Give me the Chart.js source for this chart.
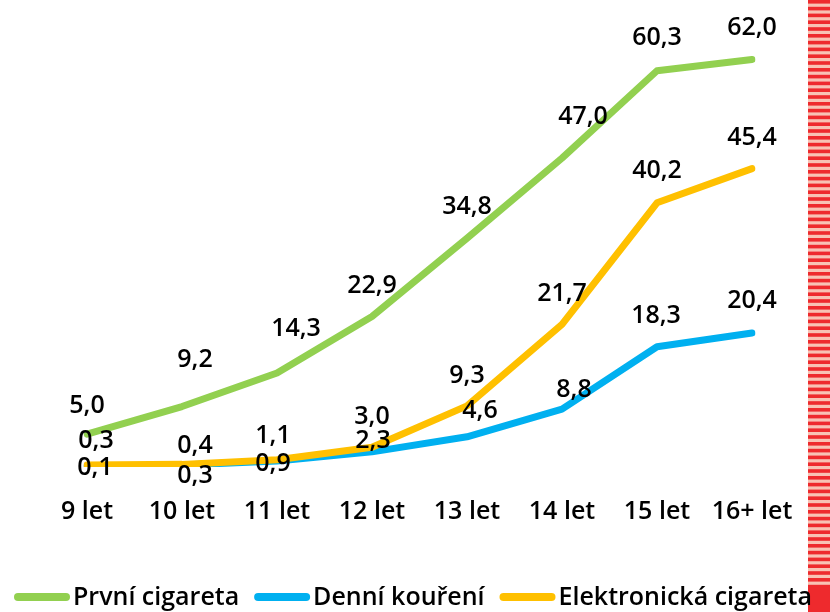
<!DOCTYPE html>
<html>
<head>
<meta charset="utf-8">
<script src="https://cdn.jsdelivr.net/npm/chart.js@4/dist/chart.umd.min.js"></script>
<style>
  html, body { margin: 0; padding: 0; background: #fff; }
  #wrap { width: 830px; height: 612px; position: relative; }
</style>
</head>
<body>
<div id="wrap"><canvas id="chart"></canvas></div>
<script>
const ageLabels = ['9 let', '10 let', '11 let', '12 let', '13 let', '14 let', '15 let', '16+ let']

const prvniCigareta = [5.0, 9.2, 14.3, 22.9, 34.8, 47.0, 60.3, 62.0]
const denniKoureni = [0.1, 0.3, 0.9, 2.3, 4.6, 8.8, 18.3, 20.4]
const elektronicka = [0.3, 0.4, 1.1, 3.0, 9.3, 21.7, 40.2, 45.4]

// hand-placed label nudges, like in the original (dx, dy from the point)
const prvniNudge = [[0,-30],[13,-49],[19,-46],[0,-33],[0,-33],[21,-43],[0,-35],[0,-34]]
const denniNudge = [[8,0],[13,9],[-4,1],[1,-13],[13,-28],[12,-21],[-1,-33],[0,-34]]
const elektroNudge = [[9,-26],[13,-20],[-4,-26],[0,-32],[0,-32],[0,-32],[0,-34],[0,-33]]

const FONT = '"Open Sans", "Noto Sans", sans-serif'

const stripes = {
  id: 'stripes',
  beforeDraw(chart) {
    const ctx = chart.ctx
    const x = 808, w = chart.width - x
    ctx.save()
    ctx.fillStyle = '#f8c2b4'
    ctx.fillRect(x, 0, w, 590)
    ctx.fillStyle = '#ee2a2d'
    for (let y = 0; y < 590; y += 6.8) ctx.fillRect(x, y, w, 3.6)
    ctx.fillRect(x, 588, w, chart.height - 588)
    ctx.restore()
  }
}

const valueLabels = {
  id: 'valueLabels',
  afterDatasetsDraw(chart) {
    const ctx = chart.ctx
    ctx.save()
    ctx.font = '600 25px ' + FONT
    ctx.fillStyle = '#000'
    ctx.textAlign = 'center'
    ctx.textBaseline = 'alphabetic'
    chart.data.datasets.forEach(function(ds, i) {
      const meta = chart.getDatasetMeta(i)
      meta.data.forEach(function(pt, j) {
        const n = ds.nudge[j]
        const txt = ds.data[j].toFixed(1).replace('.', ',')
        ctx.fillText(txt, pt.x + n[0], pt.y + n[1] + 9)
      })
    })
    ctx.restore()
  }
}

const bottomLegend = {
  id: 'bottomLegend',
  afterDraw(chart) {
    const ctx = chart.ctx
    ctx.save()
    ctx.font = '600 25px ' + FONT
    const items = chart.data.datasets.map(function(ds) {
      return { text: ds.label, color: ds.borderColor, w: ctx.measureText(ds.label).width }
    })
    const lineW = 56, gapText = 3
    const left = 14, right = 812
    let used = 0
    items.forEach(function(it) { used += lineW + gapText + it.w })
    const gapItem = (right - left - used) / (items.length - 1)
    let x = left
    const y = 597
    items.forEach(function(it) {
      ctx.strokeStyle = it.color
      ctx.lineWidth = 8
      ctx.lineCap = 'round'
      ctx.beginPath()
      ctx.moveTo(x + 4, y)
      ctx.lineTo(x + lineW - 4, y)
      ctx.stroke()
      ctx.fillStyle = '#000'
      ctx.textBaseline = 'alphabetic'
      ctx.fillText(it.text, x + lineW + gapText, y + 7.5)
      x += lineW + gapText + it.w + gapItem
    })
    ctx.restore()
  }
}

const lineStyle = { borderWidth: 7, pointRadius: 0, tension: 0, borderCapStyle: 'round', borderJoinStyle: 'round', fill: false }

new Chart(document.getElementById('chart'), {
  type: 'line',
  data: {
    labels: ageLabels,
    datasets: [
      Object.assign({ label: 'První cigareta', data: prvniCigareta, borderColor: '#92d050', nudge: prvniNudge, order: 2 }, lineStyle),
      Object.assign({ label: 'Denní kouření', data: denniKoureni, borderColor: '#00b0f0', nudge: denniNudge, order: 1 }, lineStyle),
      Object.assign({ label: 'Elektronická cigareta', data: elektronicka, borderColor: '#ffc000', nudge: elektroNudge, order: 0 }, lineStyle),
    ]
  },
  options: {
    responsive: true,
    maintainAspectRatio: false,
    animation: false,
    layout: { padding: { left: 87, right: 78, top: 7, bottom: 55 } },
    plugins: {
      legend: { display: false },
      tooltip: { enabled: false }
    },
    scales: {
      x: {
        offset: false,
        grid: { display: false, drawTicks: false },
        border: { display: false },
        ticks: {
          padding: 30,
          maxRotation: 0,
          autoSkip: false,
          color: '#000',
          font: { family: FONT, size: 25, weight: '600' }
        }
      },
      y: {
        display: false,
        min: 0,
        max: 70
      }
    }
  },
  plugins: [stripes, valueLabels, bottomLegend]
})
</script>
</body>
</html>
